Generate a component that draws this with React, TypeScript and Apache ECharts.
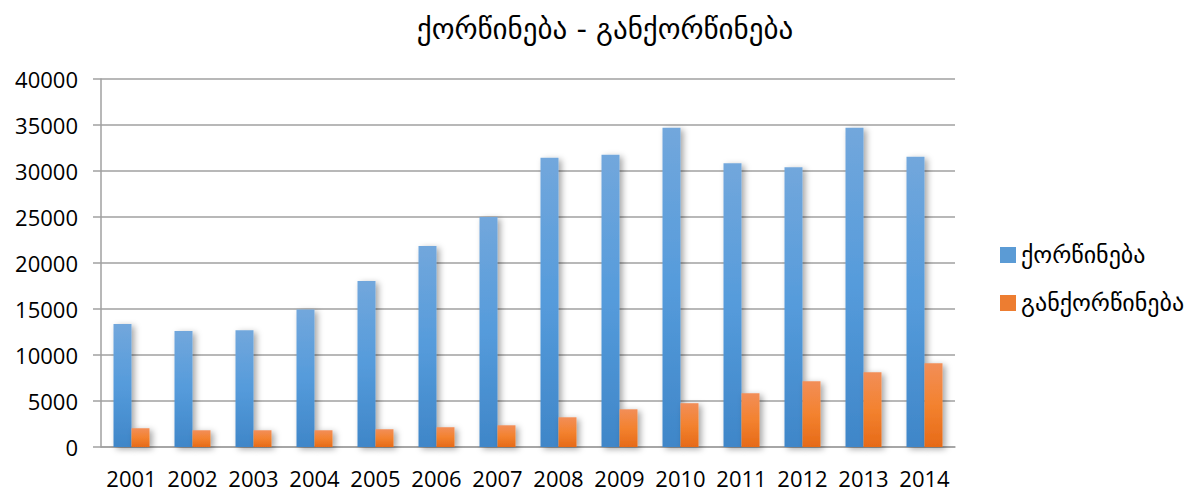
import React, { useEffect, useRef } from "react";
import * as echarts from "echarts";

const years = ["2001","2002","2003","2004","2005","2006","2007","2008","2009","2010","2011","2012","2013","2014"];
const marriages = [13360, 12600, 12700, 14950, 18040, 21850, 25000, 31430, 31760, 34700, 30840, 30400, 34700, 31540];
const divorces = [2040, 1820, 1820, 1820, 1930, 2150, 2360, 3230, 4100, 4760, 5850, 7150, 8130, 9110];
const titleText = "ქორწინება - განქორწინება";
const seriesNames = ["ქორწინება", "განქორწინება"];

const GEO_FONT = "'DejaVu Sans', 'Noto Sans', sans-serif";
const NUM_FONT = "'Open Sans', 'Noto Sans', sans-serif";

export default function App() {
  const ref = useRef<HTMLDivElement>(null);
  useEffect(() => {
    if (!ref.current) return;
    const chart = echarts.init(ref.current, undefined, { renderer: "svg" });
    const blue = new echarts.graphic.LinearGradient(0, 0, 0, 1, [
      { offset: 0, color: "#72a7dc" },
      { offset: 0.5, color: "#559bdb" },
      { offset: 1, color: "#3f86c8" },
    ]);
    const orange = new echarts.graphic.LinearGradient(0, 0, 0, 1, [
      { offset: 0, color: "#f28e58" },
      { offset: 0.5, color: "#f3822f" },
      { offset: 1, color: "#e66a18" },
    ]);
    const shadow = {
      shadowColor: "rgba(0,0,0,0.35)",
      shadowBlur: 6,
      shadowOffsetX: 3,
      shadowOffsetY: 2,
    };
    chart.setOption({
      animation: false,
      backgroundColor: "#ffffff",
      title: {
        text: titleText,
        left: 600,
        textAlign: "center",
        top: 9,
        textStyle: { fontFamily: GEO_FONT, fontSize: 29, fontWeight: "normal", color: "#000" },
      },
      legend: {
        orient: "vertical",
        left: 995,
        top: 238,
        itemWidth: 16,
        itemHeight: 16,
        itemGap: 24,
        icon: "rect",
        textStyle: { fontFamily: GEO_FONT, fontSize: 24, color: "#000" },
        data: [
          { name: seriesNames[0], itemStyle: { color: "#5b9bd5" } },
          { name: seriesNames[1], itemStyle: { color: "#ed7d31" } },
        ],
      },
      grid: { left: 101, right: 240, top: 79, bottom: 45, containLabel: false },
      xAxis: {
        type: "category",
        data: years,
        axisLine: { lineStyle: { color: "#a0a0a0", width: 1.5 } },
        axisTick: { show: false },
        axisLabel: { color: "#000", fontFamily: NUM_FONT, fontSize: 22, margin: 20, interval: 0 },
      },
      yAxis: {
        type: "value",
        min: 0,
        max: 40000,
        interval: 5000,
        axisLine: { show: true, lineStyle: { color: "#a0a0a0", width: 1.5 } },
        axisTick: { show: true, inside: false, length: 8, lineStyle: { color: "#a0a0a0", width: 1.5 } },
        splitLine: { lineStyle: { color: "#a0a0a0", width: 1.5 } },
        axisLabel: {
          color: "#000",
          fontFamily: NUM_FONT,
          fontSize: 22,
          margin: 23,
          formatter: (v: number) => String(v),
        },
      },
      series: [
        {
          name: seriesNames[0],
          type: "bar",
          data: marriages,
          barWidth: 18,
          barGap: "0%",
          itemStyle: { color: blue, ...shadow },
        },
        {
          name: seriesNames[1],
          type: "bar",
          data: divorces,
          barWidth: 18,
          barGap: "0%",
          itemStyle: { color: orange, ...shadow },
        },
      ],
    });
    return () => chart.dispose();
  }, []);
  return (
    <div
      ref={ref}
      style={{ position: "absolute", left: 0, top: 0, width: 1195, height: 492 }}
    />
  );
}
